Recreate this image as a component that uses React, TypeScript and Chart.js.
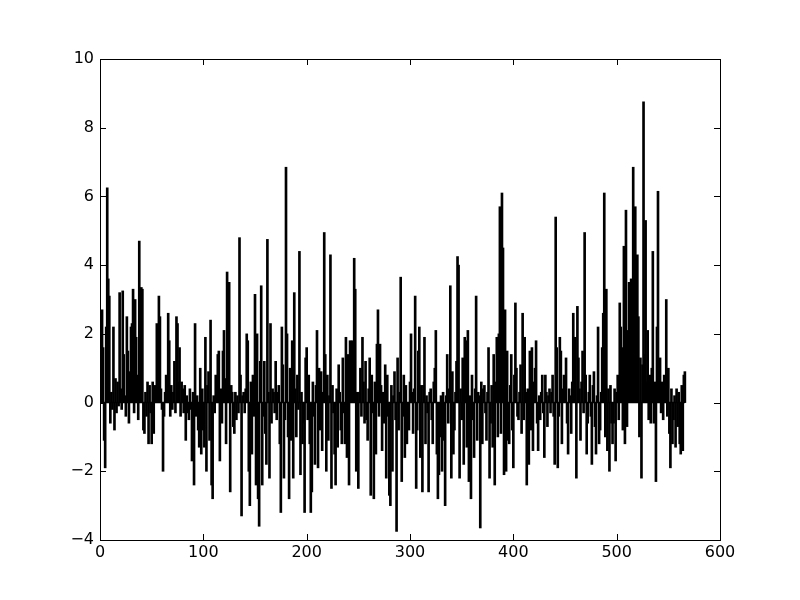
import React, { useEffect, useRef } from "react";
import { Chart, registerables } from "chart.js";

Chart.register(...registerables);

const values: number[] = [
  1.7, 0.4, 2.7, 1.6, -1.1, -1.9, 2.2, 6.25, 3.6, 3.1,
  -0.6, 0.3, -0.2, 2.2, -0.8, 0.7, -0.3, 0.6, -0.1, 3.2,
  0.4, -0.2, 3.25, 1.4, 0.2, -0.4, 2.5, 1.5, -0.6, 0.9,
  2.2, 2.3, 3.3, -0.3, 3.0, 1.9, 0.8, -0.5, 4.7, 0.4,
  3.35, 3.3, -0.8, -0.9, 0.3, -0.4, 0.6, -1.2, 0.5, -0.3,
  -1.2, 0.6, -0.9, 0.5, 0.3, 2.3, 0.8, 3.1, 2.5, 0.4,
  -0.2, -2.0, -0.4, 0.3, 0.8, 0.4, 2.6, 1.8, -0.4, 0.5,
  -0.2, 0.3, 1.2, -0.3, 2.5, 2.3, 0.6, 1.6, -0.4, 0.6,
  0.4, -0.3, 0.5, -1.1, 0.2, -0.3, -0.5, 0.4, -0.2, -1.7,
  0.3, -2.4, 2.3, -0.4, 0.2, -0.8, -1.3, 1.0, -1.5, 0.4,
  -0.8, -1.3, 1.9, -2.0, 0.5, 0.9, -1.1, 2.4, -2.4, -2.8,
  0.2, -0.3, 0.8, 0.3, 1.4, 1.5, -1.7, 0.4, -0.6, 1.5,
  2.1, 0.7, -1.2, 3.8, 1.4, 3.5, -2.6, 0.5, 0.3, -0.7,
  -0.9, 0.3, -0.5, 0.2, -0.3, 4.8, 0.8, -3.3, 0.2, 0.3,
  -0.3, 0.4, 2.0, 1.8, -2.0, -3.0, 0.6, -1.5, 0.8, -0.4,
  3.15, -2.4, 2.0, -2.8, -3.6, 1.2, 3.4, -2.4, -0.4, 1.2,
  -0.9, -1.8, 4.75, 0.3, -2.2, 2.3, -0.6, 0.4, 0.3, -0.3,
  1.2, -0.5, 0.3, 0.5, -1.2, -3.2, 2.2, 1.1, -2.2, -0.5,
  6.85, 2.0, -1.0, -2.8, 1.0, -1.1, 1.8, -2.2, 3.2, 0.4,
  -1.0, 0.8, -0.2, 4.4, -2.1, 0.3, -1.2, -0.6, -3.2, 1.3,
  1.6, -0.5, 0.8, -1.2, -3.2, -2.6, 0.6, -0.4, -1.8, 0.5,
  2.1, -1.9, 1.0, -0.8, 0.9, -1.4, 0.3, 4.95, 1.4, -2.0,
  0.8, -1.1, 0.2, 4.3, -2.5, 0.5, -0.3, -1.5, -2.4, 0.4,
  -1.3, 1.1, 0.3, -0.8, -1.2, 1.3, -0.3, -1.2, 1.9, -1.6,
  1.4, -2.4, 1.8, 0.2, 1.8, 0.5, 4.2, 3.3, -2.0, 0.3,
  -2.5, 0.3, 1.0, -0.4, 1.9, 0.6, -0.6, 1.2, -0.5, -1.1,
  0.4, 1.3, -2.7, 0.8, -0.3, -2.8, 0.6, -1.5, 1.7, 2.7,
  -0.4, 1.7, 0.5, -1.4, 0.3, -0.6, 1.1, -2.2, 0.8, -0.4,
  -2.7, -3.0, 0.5, -2.0, 0.2, 0.9, -0.5, -3.75, 1.3, -0.8,
  0.3, 3.65, -2.3, -0.4, 0.8, -1.6, 0.5, -1.2, -0.3, -0.8,
  0.6, 2.0, 0.3, -0.9, 0.4, 3.1, -2.5, -0.8, 1.5, 2.2,
  -1.6, 0.5, -2.6, 0.5, 1.9, -1.2, 0.2, -0.3, -2.6, 0.3,
  0.4, -0.5, -1.2, 0.6, 1.0, 2.1, -1.5, -2.8, -2.1, -1.0,
  0.2, -2.0, 0.3, -1.1, -3.0, 0.2, 1.4, -0.6, 0.4, 3.4,
  -2.2, 0.9, -1.5, -0.8, 0.3, 1.2, 4.25, 4.0, -2.2, 0.4,
  -0.5, 1.3, -1.8, 1.9, 1.8, -1.3, 2.1, -2.3, 0.2, -2.8,
  0.8, -0.5, -1.6, 0.4, 3.1, -1.1, 0.3, 0.2, -3.65, 0.6,
  -1.2, 0.4, 0.5, -0.3, -1.1, 0.3, 1.6, -2.2, -0.6, 0.5,
  -1.3, 1.4, -2.4, 0.6, 1.9, -1.0, 2.0, 5.7, -0.9, 6.1,
  4.5, -2.1, 2.7, -2.0, 1.5, -1.1, -1.2, 0.5, 1.4, -0.8,
  -1.9, 0.8, 2.9, 1.0, -0.4, -0.5, 0.3, 1.1, -0.9, 2.6,
  -0.5, 1.9, 0.3, -2.4, 0.4, -1.8, 1.5, -0.8, 1.6, -1.4,
  0.6, 1.0, 1.8, -0.6, -1.4, 0.2, -0.5, 0.3, 0.8, -0.3,
  -1.6, 0.8, 0.3, -0.7, 0.2, 0.4, -0.3, 0.3, 0.8, -0.4,
  -1.8, 5.4, 1.6, -1.9, -0.4, 1.9, 1.5, -1.2, 0.4, 0.8,
  0.2, 1.3, -0.6, -1.5, 0.4, 0.2, -0.9, 0.6, 2.6, 0.3,
  1.9, -2.2, 2.8, 1.3, 0.4, -1.1, 0.6, 1.5, -0.3, 4.95,
  0.8, -1.5, -0.6, 0.3, 0.8, -0.4, -1.8, 0.5, 0.9, -0.7,
  -1.5, 0.2, 2.2, -1.2, -0.8, 0.3, 1.6, 2.6, 6.1, -1.0,
  3.3, -1.4, 0.4, -2.0, 0.5, -0.6, -1.2, -0.6, 0.4, -1.7,
  0.3, 0.8, -0.5, 2.9, 2.2, 1.6, -0.8, 4.55, -1.2, 5.6,
  -0.7, 2.1, 3.5, 1.8, 3.6, 0.8, 6.85, 2.1, 5.7, 1.5,
  4.3, 2.5, -1.0, 1.3, -2.2, 1.1, 8.75, 1.4, 5.3, 0.6,
  2.1, -0.5, 0.8, -0.6, 1.0, 4.4, -0.6, 0.6, -2.3, 2.2,
  6.15, 1.0, 1.3, -0.3, 0.6, -0.5, 0.8, 0.4, 3.0, -0.4,
  1.0, -0.9, -1.9, 0.4, -1.2, -0.5, 0.2, -1.3, 0.4, -0.7,
  0.3, -1.2, -1.5, 0.5, -1.4, 0.8, 0.9,
];

const xTicks: number[] = [0, 100, 200, 300, 400, 500, 600];
const yTicks: number[] = [-4, -2, 0, 2, 4, 6, 8, 10];

const FONT = "'DejaVu Sans', sans-serif";

const innerTicks = {
  id: "innerTicks",
  afterDraw(chart: any) {
    const { ctx, chartArea: a, scales } = chart;
    const xs = scales.x;
    const ys = scales.y;
    ctx.save();
    ctx.strokeStyle = "#000";
    ctx.lineWidth = 1;
    const len = 6;
    for (const t of xTicks) {
      const px = Math.round(xs.getPixelForValue(t)) + 0.5;
      ctx.beginPath();
      ctx.moveTo(px, a.bottom);
      ctx.lineTo(px, a.bottom - len);
      ctx.moveTo(px, a.top);
      ctx.lineTo(px, a.top + len);
      ctx.stroke();
    }
    for (const t of yTicks) {
      const py = Math.round(ys.getPixelForValue(t)) + 0.5;
      ctx.beginPath();
      ctx.moveTo(a.left, py);
      ctx.lineTo(a.left + len, py);
      ctx.moveTo(a.right, py);
      ctx.lineTo(a.right - len, py);
      ctx.stroke();
    }
    ctx.strokeRect(Math.round(a.left) + 0.5, Math.round(a.top) + 0.5, Math.round(a.right - a.left), Math.round(a.bottom - a.top));
    ctx.restore();
  },
};

export default function App() {
  const ref = useRef<HTMLCanvasElement | null>(null);
  useEffect(() => {
    document.body.style.margin = "0";
    const canvas = ref.current;
    if (!canvas) return;
    const barData = values.map((v, i) => ({ x: i, y: v }));
    const chart = new Chart(canvas, {
      type: "bar",
      data: {
        datasets: [
          {
            type: "line" as any,
            data: [
              { x: 0, y: 0 },
              { x: values.length - 1, y: 0 },
            ],
            borderColor: "#000",
            borderWidth: 1.5,
            pointRadius: 0,
          } as any,
          {
            data: barData as any,
            backgroundColor: "#000",
            borderWidth: 0,
            barThickness: 2,
          } as any,
        ],
      },
      options: {
        animation: false,
        responsive: false,
        maintainAspectRatio: false,
        layout: { padding: { top: 59, right: 80, left: 0, bottom: 0 } },
        plugins: { legend: { display: false }, tooltip: { enabled: false } },
        scales: {
          x: {
            type: "linear",
            min: 0,
            max: 600,
            offset: false,
            grid: { display: false, drawTicks: false, tickLength: 0 },
            border: { display: false },
            afterBuildTicks: (s: any) => {
              s.ticks = xTicks.map((v) => ({ value: v }));
            },
            afterFit: (s: any) => {
              s.height = 60;
            },
            ticks: {
              color: "#000",
              font: { family: FONT, size: 16 },
              padding: 3,
              maxRotation: 0,
              callback: (v: any) => String(v),
            },
          },
          y: {
            type: "linear",
            min: -4,
            max: 10,
            grid: { display: false, drawTicks: false, tickLength: 0 },
            border: { display: false },
            afterBuildTicks: (s: any) => {
              s.ticks = yTicks.map((v) => ({ value: v }));
            },
            afterFit: (s: any) => {
              s.width = 100;
            },
            ticks: {
              color: "#000",
              font: { family: FONT, size: 16 },
              padding: 6,
              callback: (v: any) => (v < 0 ? "\u2212" + Math.abs(v) : String(v)),
            },
          },
        },
      },
      plugins: [innerTicks],
    });
    return () => chart.destroy();
  }, []);
  return (
    <div style={{ position: "absolute", left: 0, top: 0, width: 800, height: 600, background: "#fff" }}>
      <canvas ref={ref} width={800} height={600} style={{ width: 800, height: 600 }} />
    </div>
  );
}
